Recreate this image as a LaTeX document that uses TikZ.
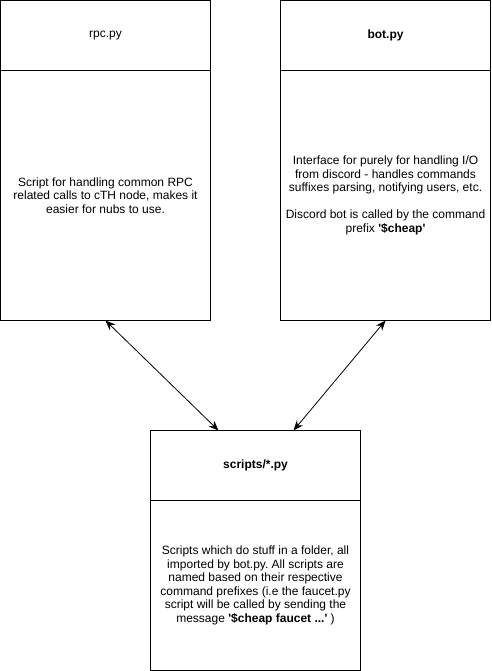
\documentclass[tikz,border=0pt]{standalone}
\usepackage{fontspec}
\setmainfont{Liberation Sans}
\usetikzlibrary{positioning,arrows.meta}
\frenchspacing

\begin{document}
\begin{tikzpicture}[x=1pt, y=-1pt, font=\fontsize{12}{13.5}\selectfont,
	box/.style={draw, line width=1pt, inner sep=0pt, outer sep=0pt, minimum width=210pt, align=center},
	head/.style={box, minimum height=70pt},
	link/.style={line width=0.8pt, arrows={Stealth[length=10pt,width=8pt]-Stealth[length=10pt,width=8pt]}}]
	\useasboundingbox (0,0) rectangle (491,671);
	\node [head] (rpc) at (105.5,35.5) {rpc.py};
	\node [box, minimum height=250pt, below=0pt of rpc] (rpcbody) {Script for handling common RPC\\related calls to cTH node, makes it\\easier for nubs to use.};
	\node [head, right=70pt of rpc] (bot) {\textbf{bot.py}};
	\node [box, minimum height=250pt, below=0pt of bot] (botbody) {Interface for purely for handling I/O\\from discord - handles commands\\suffixes parsing, notifying users, etc.\\[13.5pt]Discord bot is called by the command\\prefix \textbf{\textquotesingle\$cheap\textquotesingle}};
	\node [head] (scripts) at (255.5,465.5) {\textbf{scripts/*.py}};
	\node [box, minimum height=170pt, below=0pt of scripts] (scriptsbody) {Scripts which do stuff in a folder, all\\imported by bot.py. All scripts are\\named based on their respective\\command prefixes (i.e the faucet.py\\script will be called by sending the\\message \textbf{\textquotesingle\$cheap faucet ...\textquotesingle} )};
	\coordinate (inleft) at ([xshift=68pt]scripts.north west);
	\coordinate (inright) at ([xshift=143pt]scripts.north west);
	\draw [link] (rpcbody.south) -- (inleft);
	\draw [link] (botbody.south) -- (inright);
\end{tikzpicture}
\end{document}
